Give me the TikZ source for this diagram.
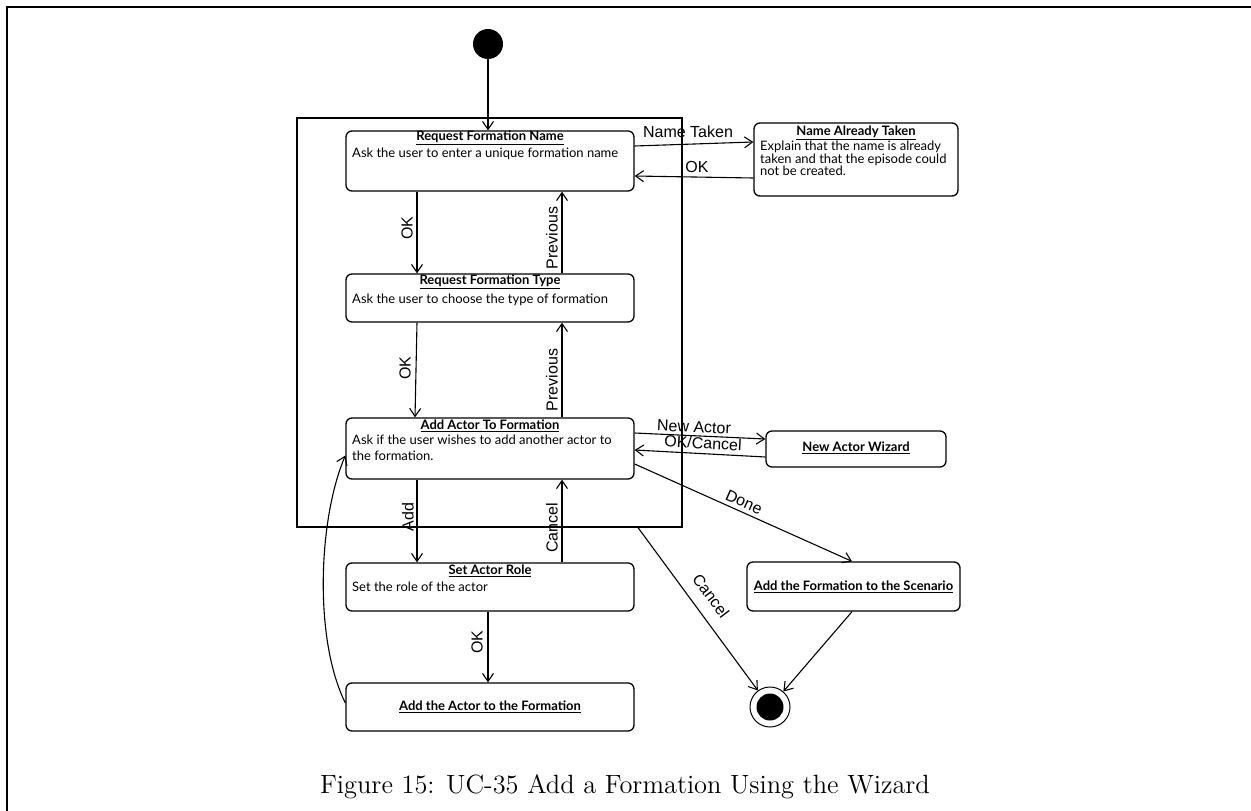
\documentclass[tikz,border=0pt]{standalone}
\usepackage{fontspec}
\newfontfamily\boxfont{Lato}
\newfontfamily\lblfont{Liberation Sans}
\newfontfamily\capfont{lmroman12-regular.otf}
\usetikzlibrary{arrows.meta,calc}

\tikzset{
  statebox/.style={draw, line width=1.3pt, rounded corners=6pt, inner sep=0pt},
  ttl/.style={inner sep=0pt, font=\boxfont\bfseries\fontsize{13}{14}\selectfont},
  body/.style={inner sep=0pt, anchor=west, align=left, font=\boxfont\fontsize{13}{12.3}\selectfont},
  lbl/.style={inner sep=0pt, font=\lblfont\fontsize{16}{18}\selectfont},
  arr/.style={line width=1.1pt, -{Straight Barb[length=8pt,width=11pt,line width=1.1pt]}},
}

\begin{document}
\begin{tikzpicture}[x=1pt,y=-1pt]
\useasboundingbox (0,0) rectangle (1251,811);

% page frame
\draw[line width=2.4pt] (7,811) -- (7,7) -- (1251,7);

% wizard region
\node[draw, line width=1.2pt, minimum width=385pt, minimum height=409pt, inner sep=0pt] (wiz) at (489.5,322.5) {};

% initial and final states
\node[circle, fill, minimum size=30pt, inner sep=0pt] (start) at (488,44) {};
\node[circle, draw, line width=1pt, minimum size=40pt, inner sep=0pt] (final) at (770,707) {};
\node[circle, fill, minimum size=27pt, inner sep=0pt] (finalcore) at (770,707) {};

% states
\node[statebox, minimum width=288pt, minimum height=60pt] (rfn) at (490,161) {};
\node[ttl] (rfnT) at (490,138) {\underline{Request Formation Name}};
\node[body] (rfnB) at (352,154) {Ask the user to enter a unique formation name};

\node[statebox, minimum width=204pt, minimum height=73pt] (nat) at (856,159.5) {};
\node[ttl] (natT) at (856,133) {\underline{Name Already Taken}};
\node[body, anchor=north west] (natB) at (760,141) {Explain that the name is already\\taken and that the episode could\\not be created.};

\node[statebox, minimum width=288pt, minimum height=48pt] (rft) at (490,298) {};
\node[ttl] (rftT) at (490,282) {\underline{Request Formation Type}};
\node[body] (rftB) at (352,300) {Ask the user to choose the type of formation};

\node[statebox, minimum width=288pt, minimum height=61pt] (aatf) at (490,448.5) {};
\node[ttl] (aatfT) at (490,426) {\underline{Add Actor To Formation}};
\node[body, anchor=north west, font=\boxfont\fontsize{13}{16}\selectfont] (aatfB) at (352,435) {Ask if the user wishes to add another actor to\\the formation.};

\node[statebox, minimum width=180pt, minimum height=36pt] (naw) at (856,449) {};
\node[ttl] (nawT) at (856,448) {\underline{New Actor Wizard}};

\node[statebox, minimum width=288pt, minimum height=48pt] (sar) at (490,587) {};
\node[ttl] (sarT) at (490,571) {\underline{Set Actor Role}};
\node[body] (sarB) at (352,587) {Set the role of the actor};

\node[statebox, minimum width=288pt, minimum height=48pt] (aaf) at (490,707) {};
\node[ttl] (aafT) at (490,707) {\underline{Add the Actor to the Formation}};

\node[statebox, minimum width=213pt, minimum height=49pt] (afs) at (853.5,586.5) {};
\node[ttl] (afsT) at (853.5,587) {\underline{Add the Formation to the Scenario}};

% transitions
\draw[arr] (start) -- ([xshift=-2pt]rfn.north);

\draw[arr] ([yshift=15pt]rfn.east) -- ([yshift=17.5pt]nat.west);
\draw[arr] ([yshift=-18.5pt]nat.west) -- ([yshift=-15pt]rfn.east);

\draw[arr] ([xshift=-73pt]rfn.south) -- ([xshift=-73pt]rft.north);
\draw[arr] ([xshift=72pt]rft.north) -- ([xshift=72pt]rfn.south);

\draw[arr] ([xshift=-73pt]rft.south) -- ([xshift=-75pt]aatf.north);
\draw[arr] ([xshift=72pt]aatf.north) -- ([xshift=72pt]rft.south);

\draw[arr] ([yshift=15.5pt]aatf.east) -- ([yshift=10pt]naw.west);
\draw[arr] ([yshift=-8pt]naw.west) -- ([yshift=-1.5pt]aatf.east);
\draw[arr] ([yshift=-15.5pt]aatf.east) -- ([xshift=-1.5pt]afs.north);

\draw[arr] ([xshift=-73pt]aatf.south) -- ([xshift=-73pt]sar.north);
\draw[arr] ([xshift=72pt]sar.north) -- ([xshift=72pt]aatf.south);

\draw[arr] ([xshift=-2pt]sar.south) -- ([xshift=-2pt]aaf.north);
\draw[arr] ([yshift=4pt]aaf.west) .. controls (314,640) and (318,520) .. ([yshift=-7pt]aatf.west);

\draw[arr] ([xshift=148.5pt]wiz.south) -- (final);
\draw[arr] ([xshift=-1.5pt]afs.south) -- (final);

% transition labels
\node[lbl] (lNT) at (688,132) {Name Taken};
\node[lbl] (lOK1) at (697,167) {OK};
\node[lbl, rotate=90] (lOK2) at (407,228) {OK};
\node[lbl, rotate=90] (lPrev1) at (552,238) {Previous};
\node[lbl, rotate=90] (lOK3) at (405,368) {OK};
\node[lbl, rotate=90] (lPrev2) at (552,380) {Previous};
\node[lbl, rotate=-2.6] (lNA) at (694,427) {New Actor};
\node[lbl, rotate=-3] (lOC) at (703,443) {OK/Cancel};
\node[lbl, rotate=-24.2] (lDone) at (744,502) {Done};
\node[lbl, rotate=90] (lAdd) at (408,517) {Add};
\node[lbl, rotate=90] (lCan1) at (552,528) {Cancel};
\node[lbl, rotate=-53.2] (lCan2) at (711,596) {Cancel};
\node[lbl, rotate=90] (lOK4) at (477,642) {OK};

% caption
\node[inner sep=0pt, font=\capfont\fontsize{26.4}{30}\selectfont] (cap) at (625,787) {Figure 15: UC-35 Add a Formation Using the Wizard};
\end{tikzpicture}
\end{document}
